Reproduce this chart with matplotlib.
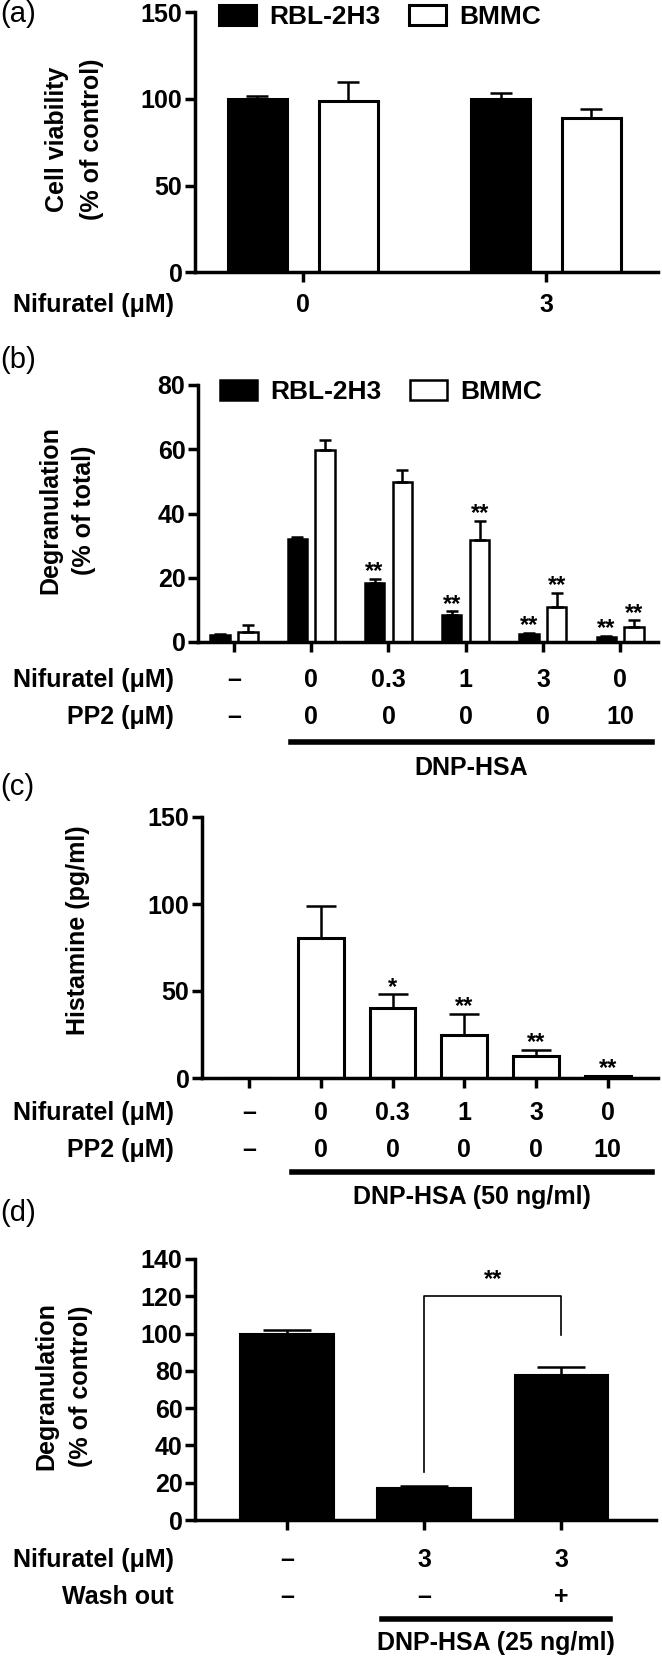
import numpy as np
import matplotlib
matplotlib.use('Agg')
import matplotlib.pyplot as plt
from matplotlib.transforms import blended_transform_factory

plt.rcParams['font.family'] = ['Liberation Sans', 'DejaVu Sans']
plt.rcParams['font.weight'] = 'bold'

W, H = 662, 1657
FS_TICK = 18
FS_TXT = 18

# ---- data ----
# (a) cell viability
a_groups = ['0', '3']
a_rbl = [100, 100]
a_rbl_err = [1.5, 3.5]
a_bmmc = [99, 89]
a_bmmc_err = [11, 5]

# (b) degranulation, % of total
b_nif = ['–', '0', '0.3', '1', '3', '0']
b_pp2 = ['–', '0', '0', '0', '0', '10']
b_rbl = [2.2, 32.1, 18.3, 8.5, 2.4, 1.5]
b_rbl_err = [0.4, 0.7, 1.3, 1.0, 0.4, 0.4]
b_bmmc = [3.0, 59.8, 49.8, 31.8, 10.8, 4.6]
b_bmmc_err = [2.4, 3.1, 3.8, 6.0, 4.4, 2.1]
b_rbl_star = ['', '', '**', '**', '**', '**']
b_bmmc_star = ['', '', '', '**', '**', '**']

# (c) histamine, pg/ml
c_nif = ['–', '0', '0.3', '1', '3', '0']
c_pp2 = ['–', '0', '0', '0', '0', '10']
c_val = [0, 80.5, 40.5, 24.5, 12.5, 1.0]
c_err = [0, 18.5, 7.5, 12.5, 3.5, 0]
c_star = ['', '', '*', '**', '**', '**']

# (d) degranulation, % of control
d_nif = ['–', '3', '3']
d_wash = ['–', '–', '+']
d_val = [100, 17, 78]
d_err = [1.7, 1.2, 4.0]


def fx(x):
    return x / W


def fy(y):
    return 1 - y / H


fig = plt.figure(figsize=(W / 100, H / 100), dpi=100)


def make_axes(left, right, top, bottom):
    ax = fig.add_axes([fx(left), fy(bottom), fx(right - left), (bottom - top) / H])
    for s in ['top', 'right']:
        ax.spines[s].set_visible(False)
    for s in ['left', 'bottom']:
        ax.spines[s].set_linewidth(2.5)
    ax.tick_params(width=2.5, length=7, labelsize=FS_TICK, pad=2)
    ax.tick_params(axis='x', labelbottom=False)
    for lab in ax.get_yticklabels():
        lab.set_fontweight('bold')
    return ax


def row_text(ax, xs, labels, y, name):
    tr = blended_transform_factory(ax.transData, fig.transFigure)
    for x, lab in zip(xs, labels):
        ax.text(x, fy(y), lab, transform=tr, ha='center', va='center',
                fontsize=FS_TXT, fontweight='bold')
    fig.text(fx(174), fy(y), name, ha='right', va='center', fontsize=FS_TXT, fontweight='bold')


def stars(ax, xs, tops, labels):
    for x, t, s in zip(xs, tops, labels):
        if s:
            ax.annotate(s, xy=(x, t), xytext=(0, -3), textcoords='offset points',
                        ha='center', va='bottom', fontsize=17, fontweight='bold')


def ylab(lines, xs, y):
    for t, x in zip(lines, xs):
        fig.text(fx(x), fy(y), t, rotation=90, ha='center', va='center',
                 fontsize=FS_TXT, fontweight='bold')


def underline(ax, x0, x1, y, label, ty):
    tr = blended_transform_factory(fig.transFigure, fig.transFigure)
    fig.add_artist(plt.Line2D([fx(x0), fx(x1)], [fy(y), fy(y)], color='k', lw=4, transform=tr))
    fig.text(fx((x0 + x1) / 2), fy(ty), label, ha='center', va='center',
             fontsize=FS_TXT, fontweight='bold')


def legend(ax, bars, x, y):
    leg = ax.legend(bars, ['RBL-2H3', 'BMMC'], ncol=2, frameon=False,
                    loc='upper left', bbox_to_anchor=(fx(x), fy(y)),
                    bbox_transform=fig.transFigure, borderpad=0, borderaxespad=0,
                    handlelength=1.4, handleheight=0.8, handletextpad=0.5,
                    columnspacing=1.1, prop={'size': 19, 'weight': 'bold'})
    return leg


def panel_label(y, s):
    fig.text(fx(0), fy(y), s, ha='left', va='center', fontsize=21, fontweight='normal')


# ---- (a) ----
ax = make_axes(195, 658, 12.5, 272)
xa = np.arange(len(a_groups))
off, bw = 0.187, 0.243
r = ax.bar(xa - off, a_rbl, bw, color='k', edgecolor='k', lw=2.2)
b = ax.bar(xa + off, a_bmmc, bw, color='white', edgecolor='k', lw=2.2)
ax.errorbar(xa - off, a_rbl, yerr=[np.zeros(2), a_rbl_err], fmt='none', ecolor='k',
            elinewidth=1.8, capsize=8, capthick=1.8)
ax.errorbar(xa + off, a_bmmc, yerr=[np.zeros(2), a_bmmc_err], fmt='none', ecolor='k',
            elinewidth=1.8, capsize=8, capthick=1.8)
ax.set_ylim(0, 150)
ax.set_yticks([0, 50, 100, 150])
ax.set_xlim(-0.444, 1.461)
ax.set_xticks(xa)
row_text(ax, xa, a_groups, 305, 'Nifuratel (μM)')
ylab(['Cell viability', '(% of control)'], [57, 92], 139)
legend(ax, [r, b], 219, 5)
panel_label(14, '(a)')

# ---- (b) ----
ax = make_axes(198, 658, 385, 642)
xb = np.arange(len(b_nif))
off, bw = 0.18, 0.25
r = ax.bar(xb - off, b_rbl, bw, color='k', edgecolor='k', lw=1.8)
b = ax.bar(xb + off, b_bmmc, bw, color='white', edgecolor='k', lw=1.8)
ax.errorbar(xb - off, b_rbl, yerr=[np.zeros(6), b_rbl_err], fmt='none', ecolor='k',
            elinewidth=1.8, capsize=4, capthick=1.8)
ax.errorbar(xb + off, b_bmmc, yerr=[np.zeros(6), b_bmmc_err], fmt='none', ecolor='k',
            elinewidth=1.8, capsize=4, capthick=1.8)
stars(ax, xb - off, np.add(b_rbl, b_rbl_err), b_rbl_star)
stars(ax, xb + off, np.add(b_bmmc, b_bmmc_err), b_bmmc_star)
ax.set_ylim(0, 80)
ax.set_yticks([0, 20, 40, 60, 80])
ax.set_xlim(-0.466, 5.49)
ax.set_xticks(xb)
row_text(ax, xb, b_nif, 680, 'Nifuratel (μM)')
row_text(ax, xb, b_pp2, 717, 'PP2 (μM)')
underline(ax, 291, 652, 742, 'DNP-HSA', 768)
ylab(['Degranulation', '(% of total)'], [50, 84], 510)
legend(ax, [r, b], 220, 380)
panel_label(360, '(b)')

# ---- (c) ----
ax = make_axes(202, 658, 817, 1078)
xc = np.arange(len(c_nif))
ax.bar(xc, c_val, 0.64, color='white', edgecolor='k', lw=2.2)
m = np.array(c_err) > 0
ax.errorbar(xc[m], np.array(c_val)[m], yerr=[np.zeros(m.sum()), np.array(c_err)[m]],
            fmt='none', ecolor='k', elinewidth=1.8, capsize=11, capthick=1.8)
stars(ax, xc, np.add(c_val, c_err), c_star)
ax.set_ylim(0, 150)
ax.set_yticks([0, 50, 100, 150])
ax.set_xlim(-0.655, 5.70)
ax.set_xticks(xc)
row_text(ax, xc, c_nif, 1113, 'Nifuratel (μM)')
row_text(ax, xc, c_pp2, 1150, 'PP2 (μM)')
underline(ax, 292, 652, 1172, 'DNP-HSA (50 ng/ml)', 1197)
ylab(['Histamine (pg/ml)'], [78], 930)
panel_label(787, '(c)')

# ---- (d) ----
ax = make_axes(195, 656, 1259, 1520)
xd = np.arange(len(d_nif))
ax.bar(xd, d_val, 0.68, color='k', edgecolor='k', lw=1.5)
ax.errorbar(xd, d_val, yerr=[np.zeros(3), d_err], fmt='none', ecolor='k',
            elinewidth=1.8, capsize=17, capthick=1.8)
ax.plot([1, 1, 2, 2], [26, 120.3, 120.3, 99.4], color='k', lw=1.2)
ax.text(1.5, 123, '**', ha='center', va='bottom', fontsize=17, fontweight='bold')
ax.set_ylim(0, 140)
ax.set_yticks(np.arange(0, 141, 20))
ax.set_xlim(-0.67, 2.69)
ax.set_xticks(xd)
row_text(ax, xd, d_nif, 1560, 'Nifuratel (μM)')
row_text(ax, xd, d_wash, 1597, 'Wash out')
underline(ax, 382, 610, 1619, 'DNP-HSA (25 ng/ml)', 1643)
ylab(['Degranulation', '(% of control)'], [46, 81], 1386)
panel_label(1213, '(d)')

fig.savefig('out.png', dpi=100)
